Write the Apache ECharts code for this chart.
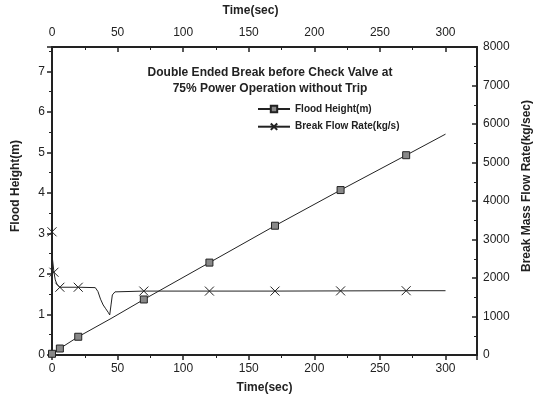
<!DOCTYPE html>
<html><head><meta charset="utf-8">
<script src="https://cdn.jsdelivr.net/npm/echarts@6/dist/echarts.min.js"></script>
<style>html,body{margin:0;padding:0;background:#fff}#c{width:541px;height:401px}</style>
</head><body><div id="c"></div>
<script>
const titleLines = ['Double Ended Break before Check Valve at', '75% Power Operation without Trip'];
const xName = 'Time(sec)';
const yLeftName = 'Flood Height(m)';
const yRightName = 'Break Mass Flow Rate(kg/sec)';
const seriesNames = ['Flood Height(m)', 'Break Flow Rate(kg/s)'];

const timeFH = [0, 3, 6, 20, 45, 70, 120, 170, 220, 270, 300];
const floodHeight = [0.03, 0.09, 0.16, 0.45, 0.9, 1.37, 2.28, 3.19, 4.07, 4.93, 5.45];
const fhMarkerTimes = [0, 6, 20, 70, 120, 170, 220, 270];

const timeBF = [0, 0.01, 1.5, 2.5, 4, 6, 20, 33, 35, 37, 39, 41, 43, 44, 45, 46, 48, 70, 120, 170, 220, 270, 300];
const breakFlow = [3200, 2600, 2150, 1950, 1820, 1760, 1760, 1750, 1650, 1450, 1300, 1200, 1100, 1040, 1300, 1560, 1640, 1660, 1660, 1660, 1665, 1670, 1670];
const bfMarkerTimes = [0, 1.5, 6, 20, 70, 120, 170, 220, 270];

const ink = '#222';
const font = "'Liberation Sans', Arial, sans-serif";

function build(times, vals, markers) {
  return times.map((t, i) => {
    const d = { value: [t, vals[i]] };
    if (!markers.includes(t)) d.symbol = 'none';
    return d;
  });
}

const chart = echarts.init(document.getElementById('c'), null, { renderer: 'canvas' });
const axisLine = { show: true, onZero: false, lineStyle: { color: ink, width: 2 } };
const minorTick = { show: true, splitNumber: 2, length: 3, lineStyle: { color: ink, width: 1 } };
const label = { color: ink, fontFamily: font, fontSize: 12 };
function nameStyle(pad) { return { color: ink, fontFamily: font, fontSize: 12, fontWeight: 'bold', padding: pad }; }
function tick(inside) { return { show: true, inside: inside, lineStyle: { color: ink, width: 1.5 }, length: 5 }; }
chart.setOption({
  animation: false,
  backgroundColor: '#fff',
  title: {
    text: titleLines.join('\n'),
    left: 265, top: 60, textAlign: 'center',
    textStyle: { fontFamily: font, fontSize: 12, fontWeight: 'bold', color: ink, lineHeight: 16 }
  },
  legend: {
    orient: 'vertical', left: 252, top: 99, itemGap: 7, itemWidth: 32, itemHeight: 8,
    data: seriesNames,
    textStyle: { fontFamily: font, fontSize: 10, fontWeight: 'bold', color: ink }
  },
  grid: { left: 52, right: 63, top: 43, bottom: 46 },
  xAxis: [
    {
      type: 'value', position: 'bottom', min: 0, max: 324, interval: 50,
      name: xName, nameLocation: 'middle', nameGap: 27, nameTextStyle: nameStyle([0, 0, 0, 0]),
      axisLine: axisLine, axisTick: tick(false), minorTick: minorTick, splitLine: { show: false },
      axisLabel: Object.assign({}, label, { showMaxLabel: false, margin: 8 })
    },
    {
      type: 'value', position: 'top', min: 0, max: 324, interval: 50,
      name: xName, nameLocation: 'middle', nameGap: 30, nameTextStyle: nameStyle([0, 28, 0, 0]),
      axisLine: axisLine, axisTick: tick(true), minorTick: minorTick, splitLine: { show: false },
      axisLabel: Object.assign({}, label, { showMaxLabel: false, margin: 8 })
    }
  ],
  yAxis: [
    {
      type: 'value', position: 'left', min: 0, max: 7.6, interval: 1,
      name: yLeftName, nameLocation: 'middle', nameGap: 30, nameRotate: 90, nameTextStyle: nameStyle([0, 0, 0, 30]),
      axisLine: axisLine, axisTick: tick(false), minorTick: minorTick, splitLine: { show: false },
      axisLabel: Object.assign({}, label, { showMaxLabel: false, margin: 7 })
    },
    {
      type: 'value', position: 'right', min: 0, max: 8000, interval: 1000,
      name: yRightName, nameLocation: 'middle', nameGap: 44, nameRotate: 90, nameTextStyle: nameStyle([0, 0, 0, 30]),
      axisLine: axisLine, axisTick: tick(true), minorTick: minorTick, splitLine: { show: false },
      axisLabel: Object.assign({}, label, { margin: 6, formatter: v => String(v) })
    }
  ],
  series: [
    {
      name: seriesNames[0], type: 'line', xAxisIndex: 0, yAxisIndex: 0,
      data: build(timeFH, floodHeight, fhMarkerTimes),
      symbol: 'rect', symbolSize: 7,
      lineStyle: { color: ink, width: 1 },
      itemStyle: { color: '#888', borderColor: ink, borderWidth: 1 }
    },
    {
      name: seriesNames[1], type: 'line', xAxisIndex: 0, yAxisIndex: 1,
      data: build(timeBF, breakFlow, bfMarkerTimes),
      symbol: 'path://M0,0L10,10M10,0L0,10', symbolSize: 9,
      lineStyle: { color: ink, width: 1 },
      itemStyle: { color: 'none', borderColor: ink, borderWidth: 1 }
    }
  ]
});
</script></body></html>
